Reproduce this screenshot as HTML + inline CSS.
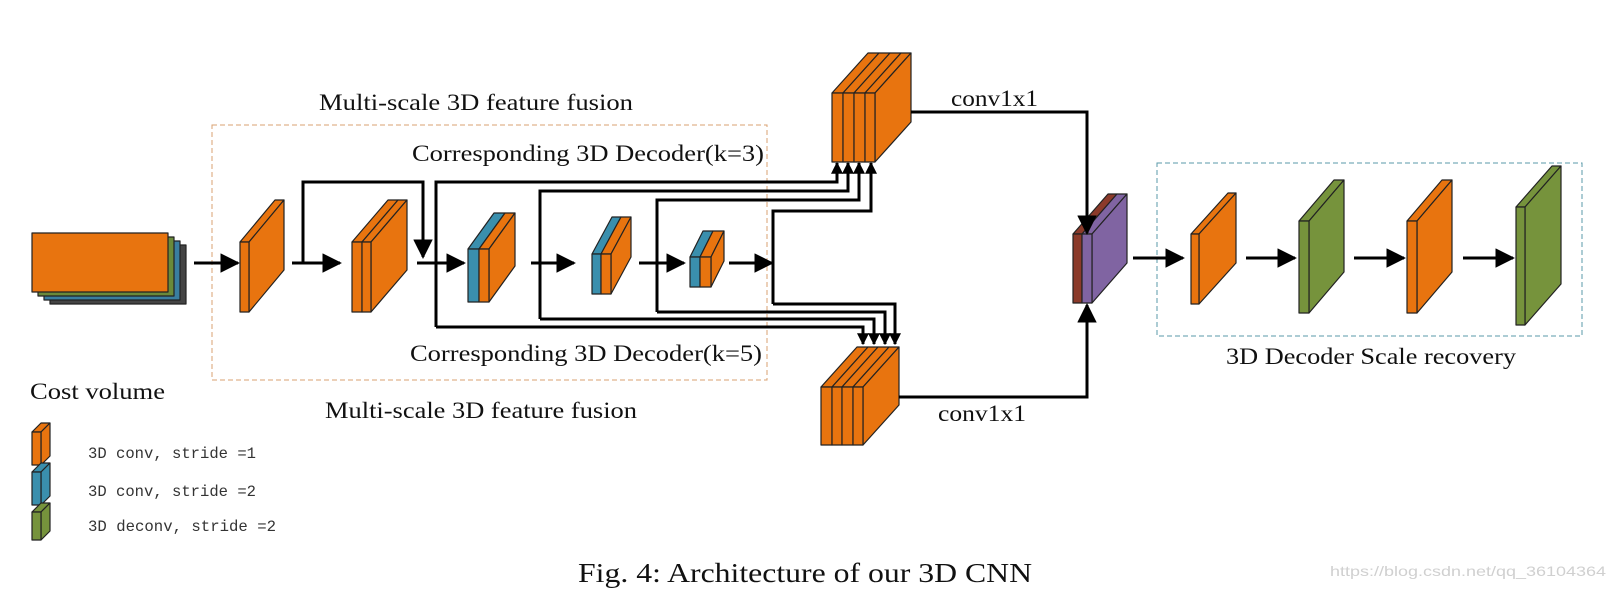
<!DOCTYPE html>
<html><head><meta charset="utf-8"><style>
html,body{margin:0;padding:0;background:#fff}
svg{display:block}
.t{font-family:"Liberation Serif",serif;fill:#111}
.m{font-family:"Liberation Mono",monospace;fill:#333}
</style></head><body>
<svg width="1610" height="603" viewBox="0 0 1610 603" xmlns="http://www.w3.org/2000/svg">
<defs>
<marker id="ah" viewBox="0 0 10 10" refX="9" refY="5" markerWidth="6.5" markerHeight="6.5" orient="auto" markerUnits="strokeWidth"><path d="M0,0 L10,5 L0,10 z" fill="#000"/></marker>
<marker id="as" viewBox="0 0 10 10" refX="9" refY="5" markerWidth="4" markerHeight="4" orient="auto" markerUnits="strokeWidth"><path d="M0,0 L10,5 L0,10 z" fill="#000"/></marker>
</defs>
<g stroke="#222" stroke-width="1.2" stroke-linejoin="round">
<rect x="50" y="245" width="136" height="59" fill="#444"/>
<rect x="44" y="241" width="136" height="59" fill="#3a7ea0"/>
<rect x="38" y="237" width="136" height="59" fill="#6a8a3a"/>
<rect x="32" y="233" width="136" height="59" fill="#E8740F"/>
<polygon points="240,242 249,242 284,200 275,200" fill="#E8740F"/>
<polygon points="249,242 284,200 284,270 249,312" fill="#E8740F"/>
<rect x="240" y="242" width="9" height="70" fill="#E8740F"/>
<polygon points="352,242 362,242 398,200 388,200" fill="#E8740F"/>
<polygon points="362,242 371,242 407,200 398,200" fill="#E8740F"/>
<polygon points="371,242 407,200 407,270 371,312" fill="#E8740F"/>
<rect x="352" y="242" width="10" height="70" fill="#E8740F"/>
<rect x="362" y="242" width="9" height="70" fill="#E8740F"/>
<polygon points="468,249 479,249 505,213 494,213" fill="#3A8FAD"/>
<polygon points="479,249 489,249 515,213 505,213" fill="#E8740F"/>
<polygon points="489,249 515,213 515,266 489,302" fill="#E8740F"/>
<rect x="468" y="249" width="11" height="53" fill="#3A8FAD"/>
<rect x="479" y="249" width="10" height="53" fill="#E8740F"/>
<polygon points="592,254 601,254 621,217 612,217" fill="#3A8FAD"/>
<polygon points="601,254 611,254 631,217 621,217" fill="#E8740F"/>
<polygon points="611,254 631,217 631,257 611,294" fill="#E8740F"/>
<rect x="592" y="254" width="9" height="40" fill="#3A8FAD"/>
<rect x="601" y="254" width="10" height="40" fill="#E8740F"/>
<polygon points="690,257 700,257 713,231 703,231" fill="#3A8FAD"/>
<polygon points="700,257 711,257 724,231 713,231" fill="#E8740F"/>
<polygon points="711,257 724,231 724,261 711,287" fill="#E8740F"/>
<rect x="690" y="257" width="10" height="30" fill="#3A8FAD"/>
<rect x="700" y="257" width="11" height="30" fill="#E8740F"/>
<polygon points="832,93 843,93 879,53 868,53" fill="#E8740F"/>
<polygon points="843,93 854,93 890,53 879,53" fill="#E8740F"/>
<polygon points="854,93 865,93 901,53 890,53" fill="#E8740F"/>
<polygon points="865,93 875,93 911,53 901,53" fill="#E8740F"/>
<polygon points="875,93 911,53 911,122 875,162" fill="#E8740F"/>
<rect x="832" y="93" width="11" height="69" fill="#E8740F"/>
<rect x="843" y="93" width="11" height="69" fill="#E8740F"/>
<rect x="854" y="93" width="11" height="69" fill="#E8740F"/>
<rect x="865" y="93" width="10" height="69" fill="#E8740F"/>
<polygon points="821,387 832,387 868,347 857,347" fill="#E8740F"/>
<polygon points="832,387 842,387 878,347 868,347" fill="#E8740F"/>
<polygon points="842,387 853,387 889,347 878,347" fill="#E8740F"/>
<polygon points="853,387 863,387 899,347 889,347" fill="#E8740F"/>
<polygon points="863,387 899,347 899,405 863,445" fill="#E8740F"/>
<rect x="821" y="387" width="11" height="58" fill="#E8740F"/>
<rect x="832" y="387" width="10" height="58" fill="#E8740F"/>
<rect x="842" y="387" width="11" height="58" fill="#E8740F"/>
<rect x="853" y="387" width="10" height="58" fill="#E8740F"/>
<polygon points="1073,234 1082,234 1117,194 1108,194" fill="#8B3A2A"/>
<polygon points="1082,234 1092,234 1127,194 1117,194" fill="#8064A2"/>
<polygon points="1092,234 1127,194 1127,263 1092,303" fill="#8064A2"/>
<rect x="1073" y="234" width="9" height="69" fill="#8B3A2A"/>
<rect x="1082" y="234" width="10" height="69" fill="#8064A2"/>
<polygon points="1191,234 1199,234 1236,193 1228,193" fill="#E8740F"/>
<polygon points="1199,234 1236,193 1236,263 1199,304" fill="#E8740F"/>
<rect x="1191" y="234" width="8" height="70" fill="#E8740F"/>
<polygon points="1299,221 1309,221 1344,180 1334,180" fill="#76933C"/>
<polygon points="1309,221 1344,180 1344,272 1309,313" fill="#76933C"/>
<rect x="1299" y="221" width="10" height="92" fill="#76933C"/>
<polygon points="1407,221 1417,221 1452,180 1442,180" fill="#E8740F"/>
<polygon points="1417,221 1452,180 1452,272 1417,313" fill="#E8740F"/>
<rect x="1407" y="221" width="10" height="92" fill="#E8740F"/>
<polygon points="1516,207 1525,207 1561,166 1552,166" fill="#76933C"/>
<polygon points="1525,207 1561,166 1561,284 1525,325" fill="#76933C"/>
<rect x="1516" y="207" width="9" height="118" fill="#76933C"/>
<polygon points="32,432 41,432 50,423 41,423" fill="#E8740F"/><polygon points="41,432 50,423 50,456 41,465" fill="#E8740F"/><rect x="32" y="432" width="9" height="33" fill="#E8740F"/>
<polygon points="32,472 41,472 50,463 41,463" fill="#3A8FAD"/><polygon points="41,472 50,463 50,496 41,505" fill="#3A8FAD"/><rect x="32" y="472" width="9" height="33" fill="#3A8FAD"/>
<polygon points="32,512 41,512 50,503 41,503" fill="#76933C"/><polygon points="41,512 50,503 50,531 41,540" fill="#76933C"/><rect x="32" y="512" width="9" height="28" fill="#76933C"/>
</g>
<rect x="212" y="125" width="555" height="255" fill="none" stroke="#d9a070" stroke-width="1" stroke-dasharray="5,3"/>
<rect x="1157" y="163" width="425" height="173" fill="none" stroke="#5a9aa8" stroke-width="1" stroke-dasharray="5,3"/>
<g fill="none" stroke="#000" stroke-width="3">
<line x1="194" y1="263" x2="238" y2="263" marker-end="url(#ah)"/>
<line x1="292" y1="263" x2="340" y2="263" marker-end="url(#ah)"/>
<line x1="417" y1="263" x2="464" y2="263" marker-end="url(#ah)"/>
<line x1="531" y1="263" x2="574" y2="263" marker-end="url(#ah)"/>
<line x1="639" y1="263" x2="684" y2="263" marker-end="url(#ah)"/>
<line x1="729" y1="263" x2="772" y2="263" marker-end="url(#ah)"/>
<polyline points="303,263 303,182 423,182 423,257" marker-end="url(#ah)"/>
<polyline points="436,327 436,182 837,182 837,163" marker-end="url(#as)"/>
<polyline points="540,319 540,191 848,191 848,163" marker-end="url(#as)"/>
<polyline points="657,312 657,200 859,200 859,163" marker-end="url(#as)"/>
<polyline points="773,304 773,211 871,211 871,163" marker-end="url(#as)"/>
<polyline points="436,327 863,327 863,344" marker-end="url(#as)"/>
<polyline points="540,319 874,319 874,344" marker-end="url(#as)"/>
<polyline points="657,312 885,312 885,344" marker-end="url(#as)"/>
<polyline points="773,304 895,304 895,344" marker-end="url(#as)"/>
<polyline points="911,112 1087,112 1087,233" marker-end="url(#ah)"/>
<polyline points="899,397 1087,397 1087,305" marker-end="url(#ah)"/>
<line x1="1133" y1="258" x2="1183" y2="258" marker-end="url(#ah)"/>
<line x1="1246" y1="258" x2="1295" y2="258" marker-end="url(#ah)"/>
<line x1="1354" y1="258" x2="1404" y2="258" marker-end="url(#ah)"/>
<line x1="1463" y1="258" x2="1513" y2="258" marker-end="url(#ah)"/>
</g>
<text class="t" x="319" y="110" font-size="23" textLength="314" lengthAdjust="spacingAndGlyphs">Multi-scale 3D feature fusion</text>
<text class="t" x="412" y="161" font-size="23" textLength="352" lengthAdjust="spacingAndGlyphs">Corresponding 3D Decoder(k=3)</text>
<text class="t" x="410" y="361" font-size="23" textLength="352" lengthAdjust="spacingAndGlyphs">Corresponding 3D Decoder(k=5)</text>
<text class="t" x="325" y="418" font-size="23" textLength="312" lengthAdjust="spacingAndGlyphs">Multi-scale 3D feature fusion</text>
<text class="t" x="951" y="106" font-size="23" textLength="87" lengthAdjust="spacingAndGlyphs">conv1x1</text>
<text class="t" x="938" y="421" font-size="23" textLength="88" lengthAdjust="spacingAndGlyphs">conv1x1</text>
<text class="t" x="1226" y="364" font-size="23" textLength="290" lengthAdjust="spacingAndGlyphs">3D Decoder Scale recovery</text>
<text class="t" x="30" y="399" font-size="23" textLength="135" lengthAdjust="spacingAndGlyphs">Cost volume</text>
<text class="m" x="88" y="458" font-size="16" textLength="168" lengthAdjust="spacingAndGlyphs">3D conv, stride =1</text>
<text class="m" x="88" y="496" font-size="16" textLength="168" lengthAdjust="spacingAndGlyphs">3D conv, stride =2</text>
<text class="m" x="88" y="531" font-size="16" textLength="188" lengthAdjust="spacingAndGlyphs">3D deconv, stride =2</text>
<text class="t" x="578" y="582" font-size="27" textLength="454" lengthAdjust="spacingAndGlyphs">Fig. 4: Architecture of our 3D CNN</text>
<text x="1330" y="576" font-size="14" fill="#d0d0d0" font-family="Liberation Sans, sans-serif" textLength="276" lengthAdjust="spacingAndGlyphs">https://blog.csdn.net/qq_36104364</text>
</svg>
</body></html>
